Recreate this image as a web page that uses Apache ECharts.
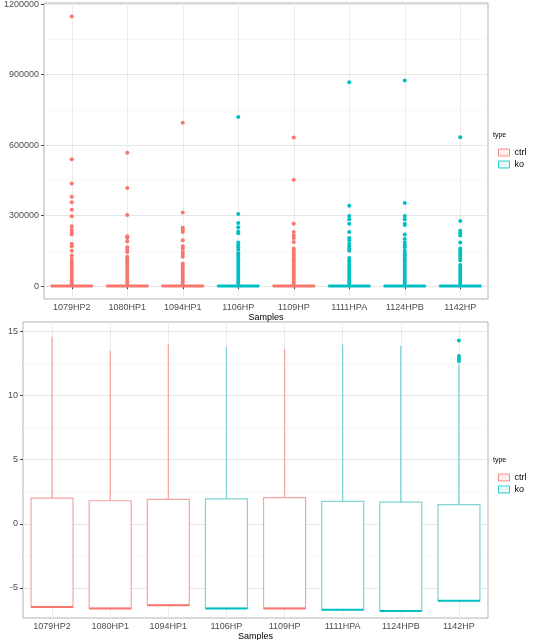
<!DOCTYPE html>
<html><head><meta charset="utf-8">
<script src="https://cdn.jsdelivr.net/npm/echarts@6/dist/echarts.min.js"></script>
<style>html,body{margin:0;padding:0;background:#fff}#c{width:533px;height:640px}</style>
</head><body><div id="c"></div>
<script>
const samples = ['1079HP2','1080HP1','1094HP1','1106HP','1109HP','1111HPA','1124HPB','1142HP'];
const types = ['ctrl','ctrl','ctrl','ko','ctrl','ko','ko','ko'];
// top panel: boxes (min,Q1,median,Q3,max)
const rsemBox = [
 [0,0,300,2500,6000],[0,0,300,2500,6000],[0,0,300,2500,6000],[0,0,300,2500,6000],
 [0,0,300,2500,6000],[0,0,300,2500,6000],[0,0,300,2500,6000],[0,0,300,2500,6000]];
const rsemOutliers = [
 [1148000,540000,437000,380000,357000,325000,297000,255000,240000,230000,220000,180000,170000,150000,130000,115000,105000,95000,85000,75000,65000,55000,45000,35000,25000,15000,8000],
 [568000,417000,303000,212000,205000,190000,165000,155000,145000,125000,118000,110000,100000,90000,80000,70000,60000,50000,40000,30000,20000,10000],
 [695000,313000,248000,240000,230000,195000,170000,160000,145000,135000,125000,95000,88000,80000,70000,60000,50000,40000,30000,20000,10000],
 [720000,307000,268000,250000,232000,225000,185000,175000,165000,155000,140000,130000,120000,110000,100000,90000,80000,70000,60000,50000,40000,30000,20000,10000],
 [632000,453000,265000,230000,215000,205000,188000,160000,150000,140000,130000,120000,110000,100000,90000,80000,70000,60000,50000,40000,30000,20000,10000],
 [868000,342000,298000,285000,265000,230000,205000,195000,180000,170000,160000,150000,120000,110000,100000,90000,80000,70000,60000,50000,40000,30000,20000,10000],
 [875000,354000,298000,285000,265000,260000,220000,200000,185000,175000,165000,150000,140000,130000,120000,110000,100000,90000,80000,70000,60000,50000,40000,30000,20000,10000],
 [633000,277000,235000,225000,215000,185000,160000,150000,140000,130000,120000,110000,90000,80000,70000,60000,50000,40000,30000,20000,10000]];
// bottom panel: voom boxes
const voomBox = [
 [-6.5,-6.5,-6.5,2.0,14.6],[-6.6,-6.6,-6.6,1.8,13.5],[-6.35,-6.35,-6.35,1.9,14.0],[-6.6,-6.6,-6.6,1.95,13.8],
 [-6.6,-6.6,-6.6,2.05,13.65],[-6.7,-6.7,-6.7,1.75,14.0],[-6.8,-6.8,-6.8,1.7,13.9],[-6.0,-6.0,-6.0,1.5,12.5]];
const voomOutliers = [[],[],[],[],[],[],[],[14.3,13.1,12.9,12.7]];
const topTicks = [0,300000,600000,900000,1200000];
const topMinor = [150000,450000,750000,1050000];
const botTicks = [-5,0,5,10,15];
const botMinor = [-2.5,2.5,7.5,12.5];

const col = {ctrl:'#F8766D', ko:'#00BFC4'};
const lcol = {ctrl:'#F3A6A1', ko:'#7FD3D6'};
const font = 'Liberation Sans';
function gridSeries(gi,ticks, minor){
  return {type:'scatter',xAxisIndex:gi,yAxisIndex:gi,data:[],z:1,
   markLine:{z:0,silent:true,symbol:'none',label:{show:false},animation:false,
    data:[...ticks.map(v=>({yAxis:v,lineStyle:{color:'#e6e6e6',width:1,type:'solid'}})),
          ...minor.map(v=>({yAxis:v,lineStyle:{color:'#f2f2f2',width:0.6,type:'solid'}})),
          ...samples.map(s=>({xAxis:s,lineStyle:{color:'#ebebeb',width:1,type:'solid'}}))]}};
}
function xAx(gi){return {type:'category',data:samples,gridIndex:gi,axisLine:{show:false},
  axisTick:{show:true,alignWithLabel:true,lineStyle:{color:'#444'},length:3},
  axisLabel:{color:'#4d4d4d',fontSize:9,fontFamily:font,margin:4,interval:0},splitLine:{show:false},
  name:'Samples',nameLocation:'middle',nameGap:12,nameTextStyle:{color:'#000',fontSize:9,fontFamily:font}};}
function yAx(gi,min,max,ticks,name,gap){return {type:'value',gridIndex:gi,min:min,max:max,
  axisLine:{show:false},splitLine:{show:false},
  axisTick:{show:true,customValues:ticks,lineStyle:{color:'#444'},length:3},
  axisLabel:{customValues:ticks,color:'#4d4d4d',fontSize:9,fontFamily:font,margin:5,formatter:v=>String(v)},
  name:name,nameLocation:'middle',nameGap:gap,nameTextStyle:{color:'#000',fontSize:9,fontFamily:font}};}
function boxSeries(gi,data,mw){
  return {type:'custom',xAxisIndex:gi,yAxisIndex:gi,z:10,
    data:data.map((d,i)=>[i,...d]),
    renderItem:(p,api)=>{const i=p.dataIndex;const x=api.coord([i,0])[0];
      const y=k=>api.coord([i,api.value(k)])[1];
      const ymin=y(1),yq1=y(2),ymed=y(3),yq3=y(4),ymax=y(5);const hw=21;
      const lc=lcol[types[i]],c=col[types[i]];
      return {type:'group',children:[
        {type:'line',shape:{x1:x,y1:yq3,x2:x,y2:ymax},style:{stroke:lc,lineWidth:1.3}},
        {type:'line',shape:{x1:x,y1:yq1,x2:x,y2:ymin},style:{stroke:lc,lineWidth:1.3}},
        {type:'rect',shape:{x:x-hw,y:yq3,width:2*hw,height:yq1-yq3},style:{fill:'#fff',stroke:lc,lineWidth:1.2}},
        {type:'line',shape:{x1:x-hw,y1:ymed,x2:x+hw,y2:ymed},style:{stroke:c,lineWidth:mw}}]};}};
}
function outSeries(gi,outs){
  const pts=[];outs.forEach((a,i)=>a.forEach(v=>pts.push({value:[samples[i],v],itemStyle:{color:col[types[i]],opacity:1,borderWidth:0}})));
  return {type:'scatter',xAxisIndex:gi,yAxisIndex:gi,symbolSize:4,data:pts,z:11,itemStyle:{opacity:1}};
}
const chart = echarts.init(document.getElementById('c'));
chart.setOption({
  animation:false,
  grid:[{left:44,right:45,top:3,height:296,show:true,borderColor:'#b3b3b3',borderWidth:1,backgroundColor:'#fff',outerBoundsMode:'none',containLabel:false},
        {left:23,right:45,top:322,height:296,show:true,borderColor:'#b3b3b3',borderWidth:1,backgroundColor:'#fff',outerBoundsMode:'none',containLabel:false}],
  xAxis:[xAx(0),xAx(1)],
  yAxis:[yAx(0,-55000,1205000,topTicks,'Expected Counts (RSEM)',36),yAx(1,-7.35,15.75,botTicks,'Voom Normalized counts',15)],
  legend:[0,1].map(k=>({orient:'vertical',left:493,top:k?468:143,itemWidth:11,itemHeight:7,itemGap:3,
    textStyle:{fontSize:9,fontFamily:font,color:'#000'},icon:'rect',
    data:[{name:'ctrl',itemStyle:{color:'#fde9e8',borderColor:col.ctrl,borderWidth:1}},
          {name:'ko',itemStyle:{color:'#e0f6f7',borderColor:col.ko,borderWidth:1}}]})),
  graphic:[{type:'text',left:493,top:132,style:{text:'type',fontSize:7,fontFamily:font,fill:'#000'}},
           {type:'text',left:493,top:457,style:{text:'type',fontSize:7,fontFamily:font,fill:'#000'}}],
  series:[
    gridSeries(0,topTicks,topMinor),
    boxSeries(0,rsemBox,3),
    outSeries(0,rsemOutliers),
    gridSeries(1,botTicks,botMinor),
    boxSeries(1,voomBox,2),
    outSeries(1,voomOutliers),
    {type:'scatter',name:'ctrl',data:[],xAxisIndex:0,yAxisIndex:0},
    {type:'scatter',name:'ko',data:[],xAxisIndex:0,yAxisIndex:0}
  ]
});
</script></body></html>
